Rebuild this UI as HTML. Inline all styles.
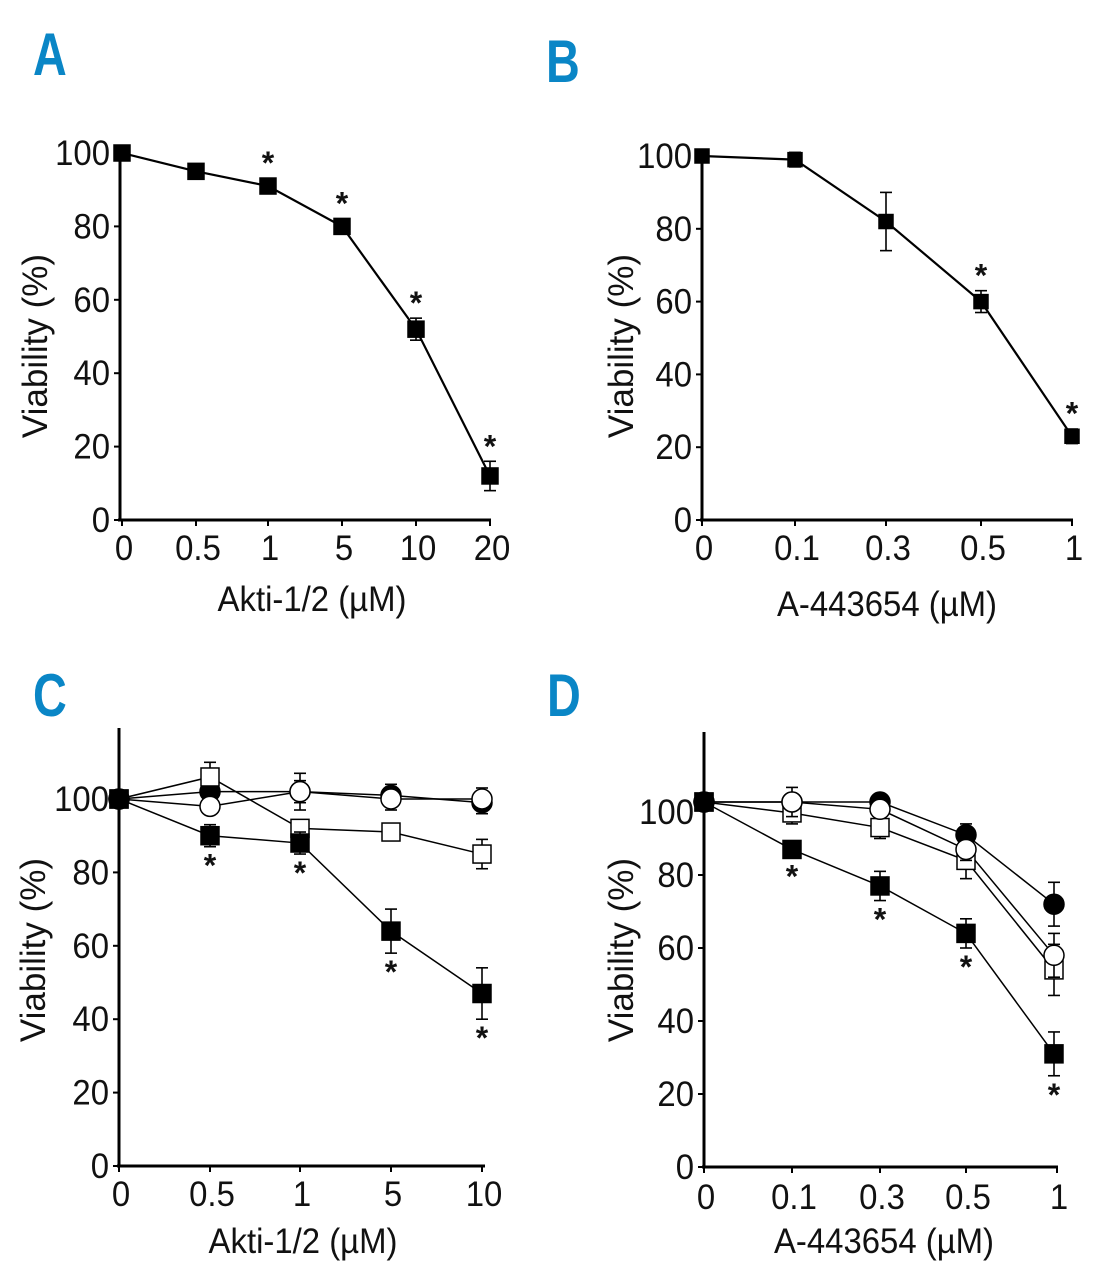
<!DOCTYPE html>
<html><head><meta charset="utf-8">
<style>
html,body{margin:0;padding:0;background:#fff;}
svg{display:block;}
text{font-family:"Liberation Sans Narrow","Liberation Sans",sans-serif;fill:#111;}
.lbl{font-family:"Liberation Sans",sans-serif;font-weight:bold;fill:#0a86c6;font-size:60px;}
</style></head>
<body>
<svg id="fig" width="1094" height="1280" viewBox="0 0 1094 1280" xmlns="http://www.w3.org/2000/svg"></svg>
<script>
// Panel A data
const catsA = ["0","0.5","1","5","10","20"];
const valsA = [100, 95, 91, 80, 52, 12];
const errA  = [0, 1, 2, 1, 3, 4];
const starA = [false,false,true,true,true,true];
// Panel B data
const catsB = ["0","0.1","0.3","0.5","1"];
const valsB = [100, 99, 82, 60, 23];
const errB  = [0, 2, 8, 3, 2];
const starB = [false,false,false,true,true];
// Panel C data
const catsC = ["0","0.5","1","5","10"];
const cFilledSq  = [100, 90, 88, 64, 47];
const cFilledSqE = [0, 3, 3, 6, 7];
const cOpenSq    = [100, 106, 92, 91, 85];
const cOpenSqE   = [0, 4, 2, 2, 4];
const cFilledCi  = [100, 102, 102, 101, 99];
const cFilledCiE = [0, 2, 3, 3, 3];
const cOpenCi    = [100, 98, 102, 100, 100];
const cOpenCiE   = [0, 2, 5, 3, 3];
const starC = [false,true,true,true,true];
// Panel D data
const catsD = ["0","0.1","0.3","0.5","1"];
const dFilledSq  = [100, 87, 77, 64, 31];
const dFilledSqE = [0, 2, 4, 4, 6];
const dFilledCi  = [100, 100, 100, 91, 72];
const dFilledCiE = [0, 2, 2, 3, 6];
const dOpenCi    = [100, 100, 98, 87, 58];
const dOpenCiE   = [0, 4, 2, 3, 6];
const dOpenSq    = [100, 97, 93, 84, 54];
const dOpenSqE   = [0, 3, 3, 5, 7];
const starD = [false,true,true,true,true];
const yTicks = [0,20,40,60,80,100];

const NS="http://www.w3.org/2000/svg";
const svg=document.getElementById('fig');
function mk(tag,attrs,parent){const e=document.createElementNS(NS,tag);for(const k in attrs)e.setAttribute(k,attrs[k]);(parent||svg).appendChild(e);return e;}
const SX=0.94;
function txt(parent,x,y,str,anchor,size,rot,sx){
  const t=mk('text',{x:0,y:0,'text-anchor':anchor,'font-size':size,
    transform:`translate(${x},${y})`+(rot?' rotate(-90)':'')+` scale(${sx||SX},1)`},parent);
  t.textContent=str;
  return t;
}

function panel(cfg){
  const g=mk('g',{});
  
  
  const yS=v=>cfg.y0-(cfg.y0-cfg.y100)*v/100;
  const xS=i=>cfg.xs[i];
  const ya=mk('line',{x1:cfg.ax,y1:cfg.ytop,x2:cfg.ax,y2:cfg.y0,stroke:'#000','stroke-width':3},g);
  
  
  const xa=mk('line',{x1:cfg.ax-2,y1:cfg.y0,x2:cfg.xend,y2:cfg.y0,stroke:'#000','stroke-width':3},g);
  
  
  yTicks.forEach(t=>{
    const y=yS(t);
    mk('line',{x1:cfg.ax-6,y1:y,x2:cfg.ax,y2:y,stroke:'#000','stroke-width':2},g);
    const tx=txt(g,cfg.ax-10,(t===100?y+cfg.lab100:y)+12,String(t),'end',35);
    
    
  });
  cfg.cats.forEach((c,i)=>{
    const x=i===cfg.cats.length-1&&cfg.xlastTick?cfg.xlastTick:xS(i);
    mk('line',{x1:x,y1:cfg.y0,x2:x,y2:cfg.y0+6,stroke:'#000','stroke-width':2},g);
    const tx=txt(g,x+2,cfg.y0+cfg.xlabOff,c,'middle',35);
    
    
  });
  const yt=txt(g,cfg.ytx,cfg.yty,'Viability (%)','middle',35,true,1.0);
  
  
  const xt=txt(g,cfg.xtx,cfg.xty,cfg.xtitle,'middle',35);
  
  
  const lt=mk('text',{x:0,y:0,'class':'lbl',transform:`translate(${cfg.lx},${cfg.ly}) scale(0.78,1)`},g);
  lt.textContent=cfg.id;
  
  
  const sw=cfg.lw||2;
  cfg.series.forEach(s=>{
    const pts=s.v.map((v,i)=>xS(i)+','+yS(v)).join(' ');
    const pl=mk('polyline',{points:pts,fill:'none',stroke:'#000','stroke-width':sw},g);
    
    
  });
  cfg.series.forEach(s=>{
    s.v.forEach((v,i)=>{
      const x=xS(i),y=yS(v),e=s.e[i]*(cfg.y0-cfg.y100)/100;
      if(e>0){
        mk('line',{x1:x,y1:y-e,x2:x,y2:y+e,stroke:'#000','stroke-width':1.6},g);
        mk('line',{x1:x-6,y1:y-e,x2:x+6,y2:y-e,stroke:'#000','stroke-width':1.6},g);
        mk('line',{x1:x-6,y1:y+e,x2:x+6,y2:y+e,stroke:'#000','stroke-width':1.6},g);
      }
      const sz=cfg.ms;
      let m;
      if(s.shape==='sq') m=mk('rect',{x:x-sz/2,y:y-sz/2,width:sz,height:sz,fill:s.fill,stroke:'#000','stroke-width':1.5},g);
      else m=mk('circle',{cx:x,cy:y,r:sz/2+1,fill:s.fill,stroke:'#000','stroke-width':1.5},g);
      
      
    });
  });
  const s0=cfg.series[cfg.starSeries];
  cfg.stars.forEach((st,i)=>{
    if(!st)return;
    const v=s0.v[i],e=s0.e[i]*(cfg.y0-cfg.y100)/100;
    const y=cfg.starAbove?yS(v)-Math.max(e,8)-4:yS(v)+Math.max(e,8)+30;
    const t=mk('text',{x:xS(i),y:y,'text-anchor':'middle','font-size':32,'font-weight':'bold'},g);
    t.textContent='*';
    
    
  });
}

panel({id:'A',cats:catsA,xs:[122,196,268,342,416,490],ax:120,y0:520,y100:153,ytop:150,xend:491,
  lab100:0,xlabOff:40,ytx:47,yty:346,xtx:312,xty:611,xtitle:'Akti-1/2 (\u00b5M)',lx:33,ly:75,ms:16,lw:2.2,
  series:[{name:'akti-viability',v:valsA,e:errA,shape:'sq',fill:'#000'}],starSeries:0,stars:starA,starAbove:true});
panel({id:'B',cats:catsB,xs:[702,795,886,981,1072],ax:702,y0:520,y100:156,ytop:153,xend:1073,
  lab100:0,xlabOff:40,ytx:633,yty:346,xtx:887,xty:616,xtitle:'A-443654 (\u00b5M)',lx:546,ly:82,ms:14,lw:2.2,
  series:[{name:'a443654-viability',v:valsB,e:errB,shape:'sq',fill:'#000'}],starSeries:0,stars:starB,starAbove:true});
panel({id:'C',cats:catsC,xs:[119,210,300,391,482],ax:119,y0:1166,y100:799,ytop:728,xend:485,
  lab100:0,xlabOff:40,ytx:45,yty:950,xtx:303,xty:1253,xtitle:'Akti-1/2 (\u00b5M)',lx:33,ly:716,ms:18,lw:1.5,
  series:[
    {name:'c-filled-circle',v:cFilledCi,e:cFilledCiE,shape:'ci',fill:'#000'},
    {name:'c-open-circle',v:cOpenCi,e:cOpenCiE,shape:'ci',fill:'#fff'},
    {name:'c-open-square',v:cOpenSq,e:cOpenSqE,shape:'sq',fill:'#fff'},
    {name:'c-filled-square',v:cFilledSq,e:cFilledSqE,shape:'sq',fill:'#000'}],
  starSeries:3,stars:starC,starAbove:false});
panel({id:'D',cats:catsD,xs:[704,792,880,966,1054],ax:704,y0:1167,y100:802,ytop:732,xend:1058,xlastTick:1057,
  lab100:10,xlabOff:42,ytx:633,yty:950,xtx:884,xty:1253,xtitle:'A-443654 (\u00b5M)',lx:547,ly:716,ms:18,lw:1.5,
  series:[
    {name:'d-filled-circle',v:dFilledCi,e:dFilledCiE,shape:'ci',fill:'#000'},
    {name:'d-open-square',v:dOpenSq,e:dOpenSqE,shape:'sq',fill:'#fff'},
    {name:'d-open-circle',v:dOpenCi,e:dOpenCiE,shape:'ci',fill:'#fff'},
    {name:'d-filled-square',v:dFilledSq,e:dFilledSqE,shape:'sq',fill:'#000'}],
  starSeries:3,stars:starD,starAbove:false});
</script>
</body></html>
